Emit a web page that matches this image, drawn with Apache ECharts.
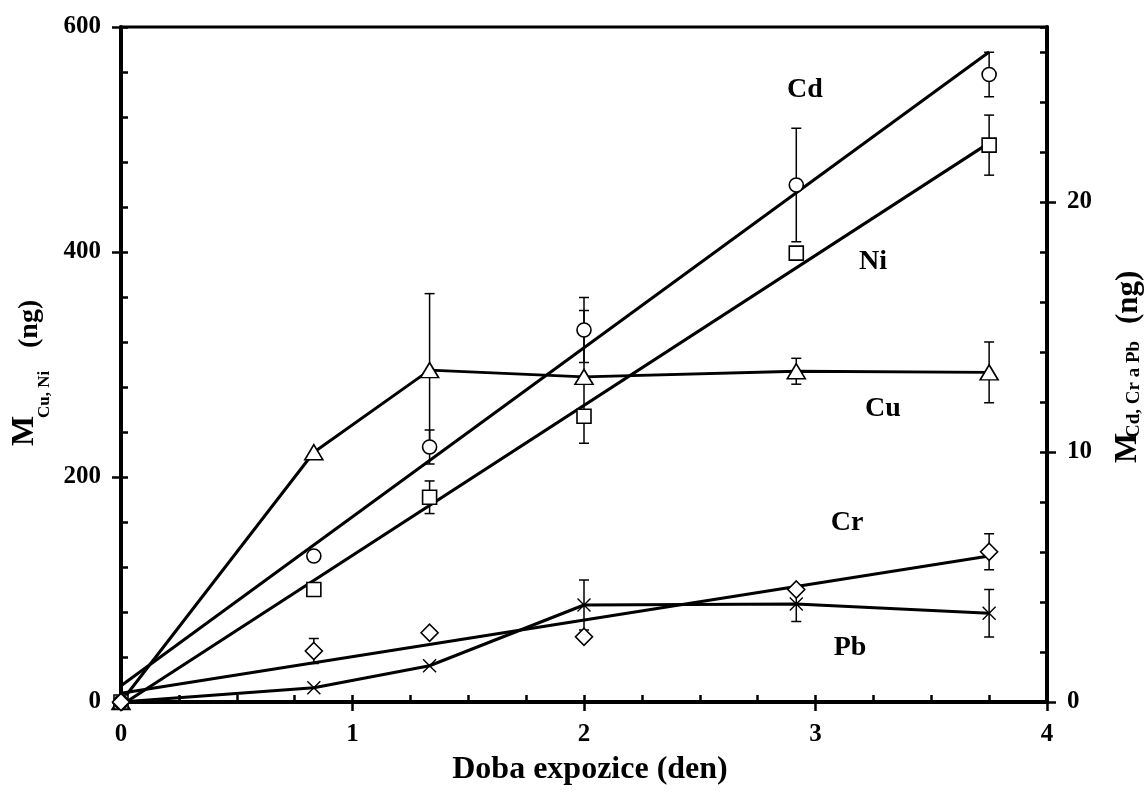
<!DOCTYPE html>
<html><head><meta charset="utf-8">
<script src="https://cdn.jsdelivr.net/npm/echarts@6/dist/echarts.min.js"></script>
<style>html,body{margin:0;padding:0;background:#fff}#c{width:1145px;height:792px}</style>
</head><body><div id="c"></div>
<script>
// ---- data ----
const days   = [0, 0.833, 1.333, 2, 2.917, 3.75];
const cu     = [0, 222, 295, 289, 294, 293];
const cuErr  = [0, 0, 68, 59, 11.5, 27];
const ni     = [0, 100, 182, 254, 399, 495];
const niErr  = [0, 0, 14.5, 0, 0, 26.7];
const cd     = [0, 5.84, 10.2, 14.88, 20.68, 25.1];
const cdErr  = [0, 0, 0.68, 1.3, 2.27, 0.89];
const cr     = [0, 2.04, 2.77, 2.61, 4.5, 6.01];
const crErr  = [0, 0.5, 0, 0, 0, 0.72];
const pb     = [0, 0.57, 1.45, 3.88, 3.92, 3.55];
const pbErr  = [0, 0, 0, 1.0, 0.7, 0.95];
const fitX   = [0, 3.75];
const cdFit  = [0.65, 26.0];
const niFit  = [-3, 497];
const crFit  = [0.35, 5.84];
const xTicks     = [0, 1, 2, 3, 4];
const leftTicks  = [0, 200, 400, 600];
const rightTicks = [0, 10, 20];
const seriesNames = ['Cd', 'Ni', 'Cu', 'Cr', 'Pb'];
const xTitle = 'Doba expozice (den)';

// ---- helpers ----
const F = '"Liberation Serif", "Times New Roman", serif';
const K = '#000';
const pts = (ys, es) => days.map((d, i) => [d, ys[i], es[i]]);
const fit = ys => fitX.map((d, i) => [d, ys[i]]);

function errBar(params, api) {
  const x = api.value(0), y = api.value(1), e = api.value(2);
  if (!e) return { type: 'group', children: [] };
  const t = api.coord([x, y + e]), b = api.coord([x, y - e]);
  const w = 5, st = { stroke: K, lineWidth: 1.5 };
  return { type: 'group', children: [
    { type: 'line', shape: { x1: t[0], y1: t[1], x2: b[0], y2: b[1] }, style: st },
    { type: 'line', shape: { x1: t[0] - w, y1: t[1], x2: t[0] + w, y2: t[1] }, style: st },
    { type: 'line', shape: { x1: b[0] - w, y1: b[1], x2: b[0] + w, y2: b[1] }, style: st }
  ]};
}
const errSeries = (ys, es, yi) => ({
  type: 'custom', yAxisIndex: yi, xAxisIndex: 0, renderItem: errBar,
  data: pts(ys, es), z: 2, silent: true
});
const fitSeries = (ys, yi) => ({
  type: 'line', yAxisIndex: yi, xAxisIndex: 0, data: fit(ys), showSymbol: false, symbol: 'none',
  lineStyle: { color: K, width: 3 }, z: 3, clip: true, silent: true
});
const mk = { color: '#fff', borderColor: K, borderWidth: 1.6, opacity: 1 };
const scat = (ys, yi, symbol, size) => ({
  type: 'scatter', yAxisIndex: yi, xAxisIndex: 0, data: days.map((d, i) => [d, ys[i]]),
  symbol, symbolSize: size, itemStyle: mk, z: 5, clip: false, silent: true
});

const lab = { fontFamily: F, fontWeight: 'bold', fontSize: 25, color: K };
const majorY = (min, max, pos, ticks, margin) => ({
  type: 'value', min, max, position: pos,
  axisLine: { show: true, onZero: false, lineStyle: { color: K, width: 4 } },
  axisTick: { show: true, inside: false, length: 9, customValues: ticks, lineStyle: { color: K, width: 2.5 } },
  axisLabel: Object.assign({ customValues: ticks, margin }, lab),
  splitLine: { show: false }
});
const minorY = (min, max, pos, interval) => ({
  type: 'value', min, max, interval, position: pos,
  axisLine: { show: false, onZero: false },
  axisTick: { show: true, inside: true, length: 7, lineStyle: { color: K, width: 2.5 } },
  axisLabel: { show: false }, splitLine: { show: false }
});

function txt(text, x, y, size, rot, align) {
  return { type: 'text', x, y, rotation: rot || 0, silent: true,
    style: { text, fontFamily: F, fontWeight: 'bold', fontSize: size, fill: K,
      textAlign: align || 'center', align: align || 'center',
      textVerticalAlign: 'middle', verticalAlign: 'middle' } };
}
const R = Math.PI / 2;

const chart = echarts.init(document.getElementById('c'), null, { renderer: 'canvas' });
chart.setOption({
  animation: false,
  backgroundColor: '#fff',
  grid: { left: 121, right: 98, top: 27, bottom: 90, show: true, borderColor: K, borderWidth: 3, backgroundColor: 'transparent' },
  xAxis: [
    { type: 'value', min: 0, max: 4, position: 'bottom',
      axisLine: { show: true, onZero: false, lineStyle: { color: K, width: 4 } },
      axisTick: { show: true, inside: false, length: 9, customValues: xTicks, lineStyle: { color: K, width: 2.5 } },
      axisLabel: Object.assign({ customValues: xTicks, margin: 20 }, lab),
      splitLine: { show: false } },
    { type: 'value', min: 0, max: 4, interval: 0.25, position: 'bottom',
      axisLine: { show: false, onZero: false },
      axisTick: { show: true, inside: true, length: 7, lineStyle: { color: K, width: 2.5 } },
      axisLabel: { show: false }, splitLine: { show: false } }
  ],
  yAxis: [
    majorY(0, 600, 'left', leftTicks, 20),
    minorY(0, 600, 'left', 40),
    majorY(0, 27, 'right', rightTicks, 20),
    minorY(0, 27, 'right', 2)
  ],
  series: [
    errSeries(cu, cuErr, 0), errSeries(ni, niErr, 0),
    errSeries(cd, cdErr, 2), errSeries(cr, crErr, 2), errSeries(pb, pbErr, 2),
    fitSeries(cdFit, 2), fitSeries(niFit, 0), fitSeries(crFit, 2),
    { type: 'line', name: 'Cu', yAxisIndex: 0, data: days.map((d, i) => [d, cu[i]]),
      symbol: 'triangle', symbolSize: [18, 15], showSymbol: true, itemStyle: mk,
      lineStyle: { color: K, width: 3 }, z: 4, silent: true },
    { type: 'line', name: 'Pb', yAxisIndex: 2, data: days.map((d, i) => [d, pb[i]]),
      symbol: 'path://M0,0L10,10M10,0L0,10', symbolSize: 13, showSymbol: true,
      itemStyle: { color: 'none', borderColor: K, borderWidth: 1.4, opacity: 1 },
      lineStyle: { color: K, width: 3 }, z: 4, silent: true },
    scat(ni, 0, 'rect', 14),
    scat(cd, 2, 'circle', 14),
    scat(cr, 2, 'diamond', [17, 17])
  ],
  graphic: [
    txt(seriesNames[0], 805, 90, 28),
    txt(seriesNames[1], 873, 262, 28),
    txt(seriesNames[2], 883, 409, 28),
    txt(seriesNames[3], 847, 523, 28),
    txt(seriesNames[4], 850, 648, 28),
    txt(xTitle, 590, 770, 32),
    // left axis title
    txt('M', 25, 446, 32, R, 'left'),
    txt('Cu, Ni', 45, 418, 17, R, 'left'),
    txt('(ng)', 30, 348, 28, R, 'left'),
    // right axis title
    txt('M', 1128, 463, 32, R, 'left'),
    txt('Cd, Cr a Pb', 1134, 438, 19, R, 'left'),
    txt('(ng)', 1129, 324, 31, R, 'left')
  ]
});
</script></body></html>
